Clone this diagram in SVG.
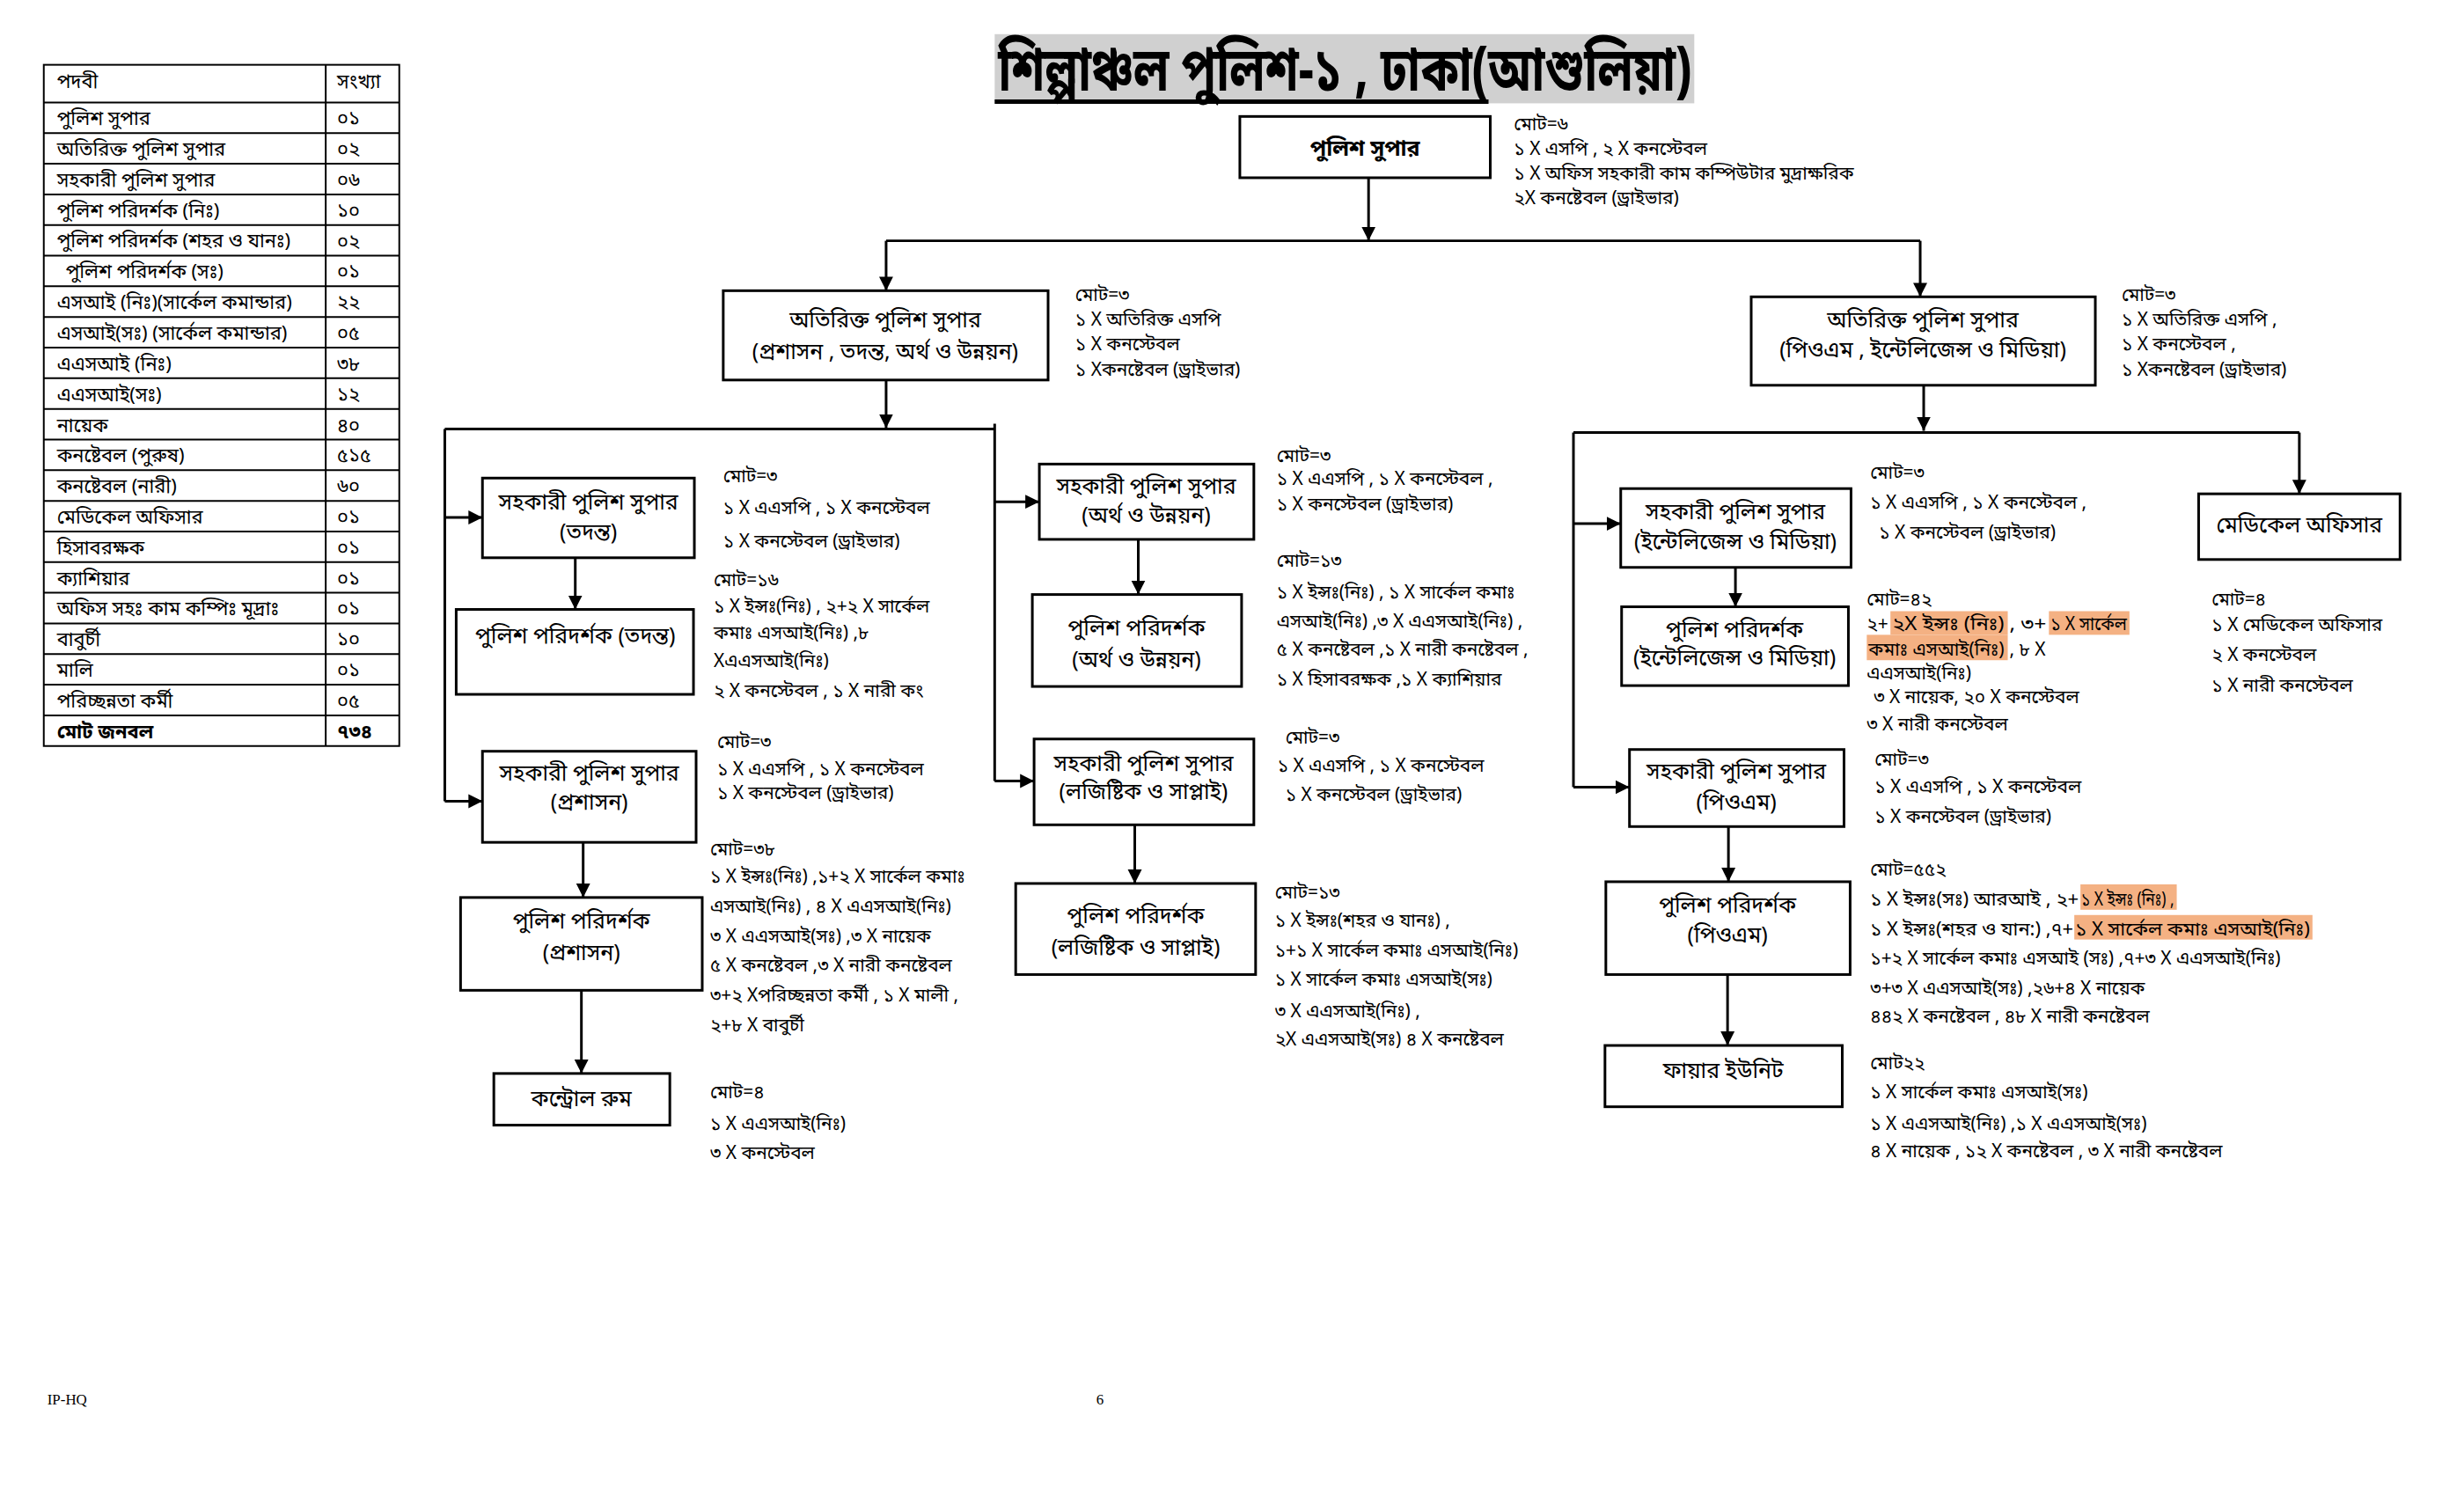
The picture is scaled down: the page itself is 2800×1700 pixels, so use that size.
<svg xmlns="http://www.w3.org/2000/svg" width="2800" height="1700" viewBox="0 0 2800 1700">
<style>
text{font-family:"Noto Sans Bengali","Noto Serif Bengali","Lohit Bengali","Noto Sans",sans-serif;fill:#000}
.box{fill:#fff;stroke:#000;stroke-width:3}
.lbl{font-size:25px;text-anchor:middle}
.info{font-size:21px}
.tb{font-size:22px}
.conn line{stroke:#000;stroke-width:3}
.grid{stroke:#000;stroke-width:2}
.hl{fill:#F4B183}
.foot{font-family:"Liberation Serif",serif;font-size:17px}
</style>
<defs>
<marker id="ah" viewBox="0 0 10 10" refX="10" refY="5" markerWidth="16" markerHeight="18" markerUnits="userSpaceOnUse" orient="auto">
<path d="M0,0 L10,5 L0,10 z" fill="#000"/>
</marker>
</defs>
<rect width="2800" height="1700" fill="#fff"/>
<g transform="scale(0.995)">

<!-- Title -->
<g id="title">
<rect x="1136" y="39" width="799" height="79" fill="#d0d0d0"/>
<line x1="1136" y1="116" x2="1700" y2="116" stroke="#000" stroke-width="5"/>
<text x="1140" y="104" font-size="70" font-weight="bold" textLength="792" lengthAdjust="spacingAndGlyphs">শিল্পাঞ্চল পুলিশ-১ , ঢাকা(আশুলিয়া)</text>
</g>

<!-- Table -->
<g id="table">
<rect x="50" y="74" width="406" height="778" fill="none" class="grid"/>
<line class="grid" x1="372" y1="74" x2="372" y2="852"/>
<line class="grid" x1="50" y1="117" x2="456" y2="117"/>
<line class="grid" x1="50" y1="152" x2="456" y2="152"/>
<line class="grid" x1="50" y1="187" x2="456" y2="187"/>
<line class="grid" x1="50" y1="222" x2="456" y2="222"/>
<line class="grid" x1="50" y1="257" x2="456" y2="257"/>
<line class="grid" x1="50" y1="292" x2="456" y2="292"/>
<line class="grid" x1="50" y1="327" x2="456" y2="327"/>
<line class="grid" x1="50" y1="362" x2="456" y2="362"/>
<line class="grid" x1="50" y1="397" x2="456" y2="397"/>
<line class="grid" x1="50" y1="432" x2="456" y2="432"/>
<line class="grid" x1="50" y1="467" x2="456" y2="467"/>
<line class="grid" x1="50" y1="502" x2="456" y2="502"/>
<line class="grid" x1="50" y1="537" x2="456" y2="537"/>
<line class="grid" x1="50" y1="572" x2="456" y2="572"/>
<line class="grid" x1="50" y1="607" x2="456" y2="607"/>
<line class="grid" x1="50" y1="642" x2="456" y2="642"/>
<line class="grid" x1="50" y1="677" x2="456" y2="677"/>
<line class="grid" x1="50" y1="712" x2="456" y2="712"/>
<line class="grid" x1="50" y1="747" x2="456" y2="747"/>
<line class="grid" x1="50" y1="782" x2="456" y2="782"/>
<line class="grid" x1="50" y1="817" x2="456" y2="817"/>
<text class="tb" x="65" y="100">পদবী</text><text class="tb" x="385" y="100">সংখ্যা</text>
<text class="tb" x="65" y="143">পুলিশ সুপার</text><text class="tb" x="385" y="143">০১</text>
<text class="tb" x="65" y="178">অতিরিক্ত পুলিশ সুপার</text><text class="tb" x="385" y="178">০২</text>
<text class="tb" x="65" y="213">সহকারী পুলিশ সুপার</text><text class="tb" x="385" y="213">০৬</text>
<text class="tb" x="65" y="248">পুলিশ পরিদর্শক (নিঃ)</text><text class="tb" x="385" y="248">১০</text>
<text class="tb" x="65" y="282" font-size="18">পুলিশ পরিদর্শক (শহর ও যানঃ)</text><text class="tb" x="385" y="283">০২</text>
<text class="tb" x="75" y="318">পুলিশ পরিদর্শক (সঃ)</text><text class="tb" x="385" y="318">০১</text>
<text class="tb" x="65" y="353" font-size="20">এসআই (নিঃ)(সার্কেল কমান্ডার)</text><text class="tb" x="385" y="353">২২</text>
<text class="tb" x="65" y="388" font-size="21">এসআই(সঃ) (সার্কেল কমান্ডার)</text><text class="tb" x="385" y="388">০৫</text>
<text class="tb" x="65" y="423">এএসআই (নিঃ)</text><text class="tb" x="385" y="423">৩৮</text>
<text class="tb" x="65" y="458">এএসআই(সঃ)</text><text class="tb" x="385" y="458">১২</text>
<text class="tb" x="65" y="493">নায়েক</text><text class="tb" x="385" y="493">৪০</text>
<text class="tb" x="65" y="528">কনষ্টেবল (পুরুষ)</text><text class="tb" x="385" y="528">৫১৫</text>
<text class="tb" x="65" y="563">কনষ্টেবল (নারী)</text><text class="tb" x="385" y="563">৬০</text>
<text class="tb" x="65" y="598">মেডিকেল অফিসার</text><text class="tb" x="385" y="598">০১</text>
<text class="tb" x="65" y="633">হিসাবরক্ষক</text><text class="tb" x="385" y="633">০১</text>
<text class="tb" x="65" y="668">ক্যাশিয়ার</text><text class="tb" x="385" y="668">০১</text>
<text class="tb" x="65" y="703" font-size="20">অফিস সহঃ কাম কম্পিঃ মূদ্রাঃ</text><text class="tb" x="385" y="703">০১</text>
<text class="tb" x="65" y="738">বাবুর্চী</text><text class="tb" x="385" y="738">১০</text>
<text class="tb" x="65" y="773">মালি</text><text class="tb" x="385" y="773">০১</text>
<text class="tb" x="65" y="808">পরিচ্ছন্নতা কর্মী</text><text class="tb" x="385" y="808">০৫</text>
<text class="tb" x="65" y="843" font-weight="bold">মোট জনবল</text><text class="tb" x="385" y="843" font-weight="bold">৭৩৪</text>
</g>

<!-- Connectors -->
<g id="connectors" class="conn">
<line x1="1563" y1="203" x2="1563" y2="275" marker-end="url(#ah)"/>
<line x1="1012" y1="275" x2="2193" y2="275"/>
<line x1="1012" y1="275" x2="1012" y2="332" marker-end="url(#ah)"/>
<line x1="2193" y1="275" x2="2193" y2="339" marker-end="url(#ah)"/>
<line x1="1012" y1="434" x2="1012" y2="489" marker-end="url(#ah)"/>
<line x1="508" y1="490" x2="1136" y2="490"/>
<line x1="1136" y1="484" x2="1136" y2="892"/>
<line x1="508" y1="490" x2="508" y2="915"/>
<line x1="508" y1="591" x2="551" y2="591" marker-end="url(#ah)"/>
<line x1="508" y1="915" x2="551" y2="915" marker-end="url(#ah)"/>
<line x1="657" y1="637" x2="657" y2="696" marker-end="url(#ah)"/>
<line x1="666" y1="962" x2="666" y2="1025" marker-end="url(#ah)"/>
<line x1="664" y1="1131" x2="664" y2="1226" marker-end="url(#ah)"/>
<line x1="1136" y1="573" x2="1187" y2="573" marker-end="url(#ah)"/>
<line x1="1136" y1="892" x2="1181" y2="892" marker-end="url(#ah)"/>
<line x1="1300" y1="616" x2="1300" y2="679" marker-end="url(#ah)"/>
<line x1="1296" y1="942" x2="1296" y2="1009" marker-end="url(#ah)"/>
<line x1="2197" y1="440" x2="2197" y2="492" marker-end="url(#ah)"/>
<line x1="1797" y1="494" x2="2626" y2="494"/>
<line x1="1797" y1="494" x2="1797" y2="899"/>
<line x1="1797" y1="598" x2="1851" y2="598" marker-end="url(#ah)"/>
<line x1="1797" y1="899" x2="1861" y2="899" marker-end="url(#ah)"/>
<line x1="2626" y1="494" x2="2626" y2="564" marker-end="url(#ah)"/>
<line x1="1982" y1="648" x2="1982" y2="693" marker-end="url(#ah)"/>
<line x1="1974" y1="944" x2="1974" y2="1007" marker-end="url(#ah)"/>
<line x1="1973" y1="1113" x2="1973" y2="1194" marker-end="url(#ah)"/>
</g>

<!-- Nodes -->
<g id="sp">
<rect class="box" x="1416" y="133" width="286" height="70"/>
<text class="lbl" x="1559" y="178" font-weight="bold" font-size="28">পুলিশ সুপার</text>
<text class="info"><tspan x="1729" y="149">মোট=৬</tspan><tspan x="1729" y="177">১ X এসপি , ২ X কনস্টেবল</tspan><tspan x="1729" y="205">১ X অফিস সহকারী কাম কম্পিউটার মুদ্রাক্ষরিক</tspan><tspan x="1729" y="233">২X কনষ্টেবল (ড্রাইভার)</tspan></text>
</g>

<g id="addl-sp-admin">
<rect class="box" x="826" y="332" width="371" height="102"/>
<text class="lbl"><tspan x="1011" y="374">অতিরিক্ত পুলিশ সুপার</tspan><tspan x="1011" y="410">(প্রশাসন , তদন্ত, অর্থ ও উন্নয়ন)</tspan></text>
<text class="info"><tspan x="1228" y="344">মোট=৩</tspan><tspan x="1228" y="372">১ X অতিরিক্ত এসপি</tspan><tspan x="1228" y="400">১ X কনস্টেবল</tspan><tspan x="1228" y="429">১ Xকনষ্টেবল (ড্রাইভার)</tspan></text>
</g>

<g id="addl-sp-pom">
<rect class="box" x="2000" y="339" width="393" height="101"/>
<text class="lbl"><tspan x="2196" y="374">অতিরিক্ত পুলিশ সুপার</tspan><tspan x="2196" y="408">(পিওএম , ইন্টেলিজেন্স ও মিডিয়া)</tspan></text>
<text class="info"><tspan x="2423" y="344">মোট=৩</tspan><tspan x="2423" y="372">১ X অতিরিক্ত এসপি ,</tspan><tspan x="2423" y="400">১ X কনস্টেবল ,</tspan><tspan x="2423" y="429">১ Xকনষ্টেবল (ড্রাইভার)</tspan></text>
</g>

<g id="asp-investigation">
<rect class="box" x="551" y="546" width="242" height="91"/>
<text class="lbl"><tspan x="672" y="582">সহকারী পুলিশ সুপার</tspan><tspan x="672" y="616">(তদন্ত)</tspan></text>
<text class="info" font-size="25"><tspan x="826" y="551">মোট=৩</tspan><tspan x="826" y="587">১ X এএসপি , ১ X কনস্টেবল</tspan><tspan x="826" y="625">১ X কনস্টেবল (ড্রাইভার)</tspan></text>
</g>

<g id="pi-investigation">
<rect class="box" x="521" y="696" width="271" height="97"/>
<text class="lbl" x="657" y="735">পুলিশ পরিদর্শক (তদন্ত)</text>
<text class="info" font-size="23"><tspan x="815" y="669">মোট=১৬</tspan><tspan x="815" y="699">১ X ইন্সঃ(নিঃ) , ২+২ X সার্কেল</tspan><tspan x="815" y="730">কমাঃ এসআই(নিঃ) ,৮</tspan><tspan x="815" y="762">Xএএসআই(নিঃ)</tspan><tspan x="815" y="796">২ X কনস্টেবল , ১ X নারী কং</tspan></text>
</g>

<g id="asp-admin">
<rect class="box" x="551" y="858" width="244" height="104"/>
<text class="lbl"><tspan x="673" y="891">সহকারী পুলিশ সুপার</tspan><tspan x="673" y="925">(প্রশাসন)</tspan></text>
<text class="info"><tspan x="819" y="854">মোট=৩</tspan><tspan x="819" y="885">১ X এএসপি , ১ X কনস্টেবল</tspan><tspan x="819" y="913">১ X কনস্টেবল (ড্রাইভার)</tspan></text>
</g>

<g id="pi-admin">
<rect class="box" x="526" y="1025" width="276" height="106"/>
<text class="lbl"><tspan x="664" y="1060">পুলিশ পরিদর্শক</tspan><tspan x="664" y="1096">(প্রশাসন)</tspan></text>
<text class="info" font-size="22"><tspan x="811" y="977">মোট=৩৮</tspan><tspan x="811" y="1008">১ X ইন্সঃ(নিঃ) ,১+২ X সার্কেল কমাঃ</tspan><tspan x="811" y="1042">এসআই(নিঃ) , ৪ X এএসআই(নিঃ)</tspan><tspan x="811" y="1076">৩ X এএসআই(সঃ) ,৩ X নায়েক</tspan><tspan x="811" y="1110">৫ X কনষ্টেবল ,৩ X নারী কনষ্টেবল</tspan><tspan x="811" y="1144">৩+২ Xপরিচ্ছন্নতা কর্মী , ১ X মালী ,</tspan><tspan x="811" y="1178">২+৮ X বাবুর্চী</tspan></text>
</g>

<g id="control-room">
<rect class="box" x="564" y="1226" width="201" height="59"/>
<text class="lbl" x="664" y="1263">কন্ট্রোল রুম</text>
<text class="info" font-size="22"><tspan x="811" y="1254">মোট=৪</tspan><tspan x="811" y="1290">১ X এএসআই(নিঃ)</tspan><tspan x="811" y="1324">৩ X কনস্টেবল</tspan></text>
</g>

<g id="asp-finance">
<rect class="box" x="1187" y="530" width="245" height="86"/>
<text class="lbl"><tspan x="1309" y="564">সহকারী পুলিশ সুপার</tspan><tspan x="1309" y="597">(অর্থ ও উন্নয়ন)</tspan></text>
<text class="info"><tspan x="1458" y="528">মোট=৩</tspan><tspan x="1458" y="554">১ X এএসপি , ১ X কনস্টেবল ,</tspan><tspan x="1458" y="583">১ X কনস্টেবল (ড্রাইভার)</tspan></text>
</g>

<g id="pi-finance">
<rect class="box" x="1179" y="679" width="239" height="105"/>
<text class="lbl"><tspan x="1298" y="726">পুলিশ পরিদর্শক</tspan><tspan x="1298" y="762">(অর্থ ও উন্নয়ন)</tspan></text>
<text class="info" font-size="22"><tspan x="1458" y="647">মোট=১৩</tspan><tspan x="1458" y="683">১ X ইন্সঃ(নিঃ) , ১ X সার্কেল কমাঃ</tspan><tspan x="1458" y="717">এসআই(নিঃ) ,৩ X এএসআই(নিঃ) ,</tspan><tspan x="1458" y="749">৫ X কনষ্টেবল ,১ X নারী কনষ্টেবল ,</tspan><tspan x="1458" y="783">১ X হিসাবরক্ষক ,১ X ক্যাশিয়ার</tspan></text>
</g>

<g id="asp-logistics">
<rect class="box" x="1181" y="844" width="251" height="98"/>
<text class="lbl"><tspan x="1306" y="880">সহকারী পুলিশ সুপার</tspan><tspan x="1306" y="913">(লজিষ্টিক ও সাপ্লাই)</tspan></text>
<text class="info"><tspan x="1468" y="849">মোট=৩</tspan><tspan x="1459" y="881">১ X এএসপি , ১ X কনস্টেবল</tspan><tspan x="1468" y="915">১ X কনস্টেবল (ড্রাইভার)</tspan></text>
</g>

<g id="pi-logistics">
<rect class="box" x="1160" y="1009" width="274" height="104"/>
<text class="lbl"><tspan x="1297" y="1054">পুলিশ পরিদর্শক</tspan><tspan x="1297" y="1090">(লজিষ্টিক ও সাপ্লাই)</tspan></text>
<text class="info" font-size="22"><tspan x="1456" y="1026">মোট=১৩</tspan><tspan x="1456" y="1058">১ X ইন্সঃ(শহর ও যানঃ) ,</tspan><tspan x="1456" y="1092">১+১ X সার্কেল কমাঃ এসআই(নিঃ)</tspan><tspan x="1456" y="1126">১ X সার্কেল কমাঃ এসআই(সঃ)</tspan><tspan x="1456" y="1162">৩ X এএসআই(নিঃ) ,</tspan><tspan x="1456" y="1194">২X এএসআই(সঃ)  ৪ X কনষ্টেবল</tspan></text>
</g>

<g id="asp-intel">
<rect class="box" x="1851" y="558" width="263" height="90"/>
<text class="lbl"><tspan x="1982" y="593">সহকারী পুলিশ সুপার</tspan><tspan x="1982" y="627">(ইন্টেলিজেন্স ও মিডিয়া)</tspan></text>
<text class="info"><tspan x="2136" y="547">মোট=৩</tspan><tspan x="2136" y="581">১ X এএসপি , ১ X কনস্টেবল ,</tspan><tspan x="2146" y="615">১ X কনস্টেবল (ড্রাইভার)</tspan></text>
</g>

<g id="pi-intel">
<rect class="box" x="1852" y="693" width="259" height="90"/>
<text class="lbl"><tspan x="1981" y="728">পুলিশ পরিদর্শক</tspan><tspan x="1981" y="760">(ইন্টেলিজেন্স ও মিডিয়া)</tspan></text>
<rect class="hl" x="2159" y="698" width="134" height="27"/>
<rect class="hl" x="2340" y="698" width="92" height="27"/>
<rect class="hl" x="2132" y="725" width="161" height="29"/>
<text class="info" font-size="22"><tspan x="2132" y="691">মোট=৪২</tspan><tspan x="2132" y="720">২+</tspan><tspan x="2161" y="720" textLength="128" lengthAdjust="spacingAndGlyphs">২X ইন্সঃ (নিঃ)</tspan><tspan x="2295" y="720" textLength="42" lengthAdjust="spacingAndGlyphs">, ৩+</tspan><tspan x="2342" y="720" textLength="87" lengthAdjust="spacingAndGlyphs">১ X সার্কেল</tspan><tspan x="2134" y="749" textLength="155" lengthAdjust="spacingAndGlyphs">কমাঃ এসআই(নিঃ)</tspan><tspan x="2295" y="749">, ৮ X</tspan><tspan x="2132" y="776">এএসআই(নিঃ)</tspan><tspan x="2140" y="803">৩ X নায়েক, ২০ X কনস্টেবল</tspan><tspan x="2132" y="834">৩ X নারী কনস্টেবল</tspan></text>
</g>

<g id="medical">
<rect class="box" x="2511" y="564" width="230" height="75"/>
<text class="lbl" x="2626" y="608">মেডিকেল অফিসার</text>
<text class="info"><tspan x="2526" y="691">মোট=৪</tspan><tspan x="2526" y="721">১ X মেডিকেল অফিসার</tspan><tspan x="2526" y="755">২ X কনস্টেবল</tspan><tspan x="2526" y="790">১ X নারী কনস্টেবল</tspan></text>
</g>

<g id="asp-pom">
<rect class="box" x="1861" y="856" width="245" height="88"/>
<text class="lbl"><tspan x="1983" y="889">সহকারী পুলিশ সুপার</tspan><tspan x="1983" y="925">(পিওএম)</tspan></text>
<text class="info"><tspan x="2141" y="874">মোট=৩</tspan><tspan x="2141" y="906">১ X এএসপি , ১ X কনস্টেবল</tspan><tspan x="2141" y="940">১ X কনস্টেবল (ড্রাইভার)</tspan></text>
</g>

<g id="pi-pom">
<rect class="box" x="1834" y="1007" width="279" height="106"/>
<text class="lbl"><tspan x="1973" y="1042">পুলিশ পরিদর্শক</tspan><tspan x="1973" y="1076">(পিওএম)</tspan></text>
<rect class="hl" x="2376" y="1010" width="110" height="29"/>
<rect class="hl" x="2369" y="1045" width="272" height="28"/>
<text class="info"><tspan x="2136" y="1000">মোট=৫৫২</tspan><tspan x="2136" y="1034" textLength="238" lengthAdjust="spacingAndGlyphs">১ X ইন্সঃ(সঃ) আরআই , ২+</tspan><tspan x="2377" y="1034" textLength="106" lengthAdjust="spacingAndGlyphs">১ X ইন্সঃ (নিঃ) ,</tspan><tspan x="2136" y="1068" textLength="232" lengthAdjust="spacingAndGlyphs">১ X ইন্সঃ(শহর ও যান:) ,৭+</tspan><tspan x="2370" y="1068" textLength="268" lengthAdjust="spacingAndGlyphs">১ X সার্কেল কমাঃ এসআই(নিঃ)</tspan><tspan x="2136" y="1102">১+২ X সার্কেল কমাঃ এসআই (সঃ) ,৭+৩ X এএসআই(নিঃ)</tspan><tspan x="2136" y="1136">৩+৩ X এএসআই(সঃ) ,২৬+৪ X নায়েক</tspan><tspan x="2136" y="1168">৪৪২ X কনষ্টেবল , ৪৮ X নারী কনষ্টেবল</tspan></text>
</g>

<g id="fire-unit">
<rect class="box" x="1833" y="1194" width="271" height="70"/>
<text class="lbl" x="1968" y="1231">ফায়ার ইউনিট</text>
<text class="info" font-size="22"><tspan x="2136" y="1221">মোট২২</tspan><tspan x="2136" y="1254">১ X সার্কেল কমাঃ এসআই(সঃ)</tspan><tspan x="2136" y="1290">১ X এএসআই(নিঃ) ,১ X এএসআই(সঃ)</tspan><tspan x="2136" y="1322">৪ X নায়েক , ১২ X কনষ্টেবল , ৩ X নারী কনষ্টেবল</tspan></text>
</g>

<g id="footer">
<text class="foot" x="54" y="1604">IP-HQ</text>
<text class="foot" x="1252" y="1604">6</text>
</g>
</g>
</svg>
